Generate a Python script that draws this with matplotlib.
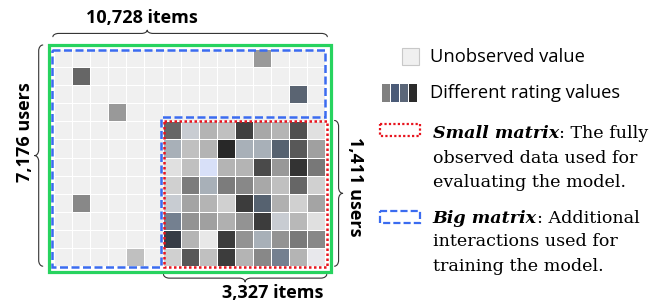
import numpy as np
import matplotlib
matplotlib.use("Agg")
import matplotlib.pyplot as plt
from matplotlib.colors import to_rgb
from matplotlib.patches import Rectangle, PathPatch
from matplotlib.path import Path

# Rating matrix sketch: full user/item matrix with a fully observed sub-block

n_rows, n_cols = 12, 15
small_row0, small_col0 = 4, 6
missing_color = "#f0f0f0"

# sparse observed ratings outside the small block: (row, col, colour)
sparse_obs = [
    (0, 11, "#999999"),
    (1, 1, "#666666"),
    (2, 13, "#5a6472"),
    (3, 3, "#999999"),
    (8, 1, "#888888"),
    (11, 4, "#c0c0c0"),
]

# fully observed small block (8 users x 9 items)
small_matrix = [
    ["#666666", "#c8ccd2", "#b4b4b4", "#c0c0c0", "#404040", "#a8a8a8", "#b4b4b4", "#505050", "#e0e0e0"],
    ["#a8b0b8", "#c0c0c0", "#b4b4b4", "#282828", "#a8b0b8", "#a8b0b8", "#566270", "#585858", "#a0a0a0"],
    ["#e0e0e0", "#c0c0c0", "#d8e0f8", "#b4b4b4", "#b4b4b4", "#4a4a4a", "#989898", "#333333", "#787878"],
    ["#d0d0d0", "#7c7c7c", "#a8b0b8", "#7c7c7c", "#888888", "#a8a8a8", "#c0c0c0", "#666666", "#d0d0d0"],
    ["#c8ccd2", "#a4a4a4", "#b4b4b4", "#d0d0d0", "#3c3c3c", "#566270", "#b0b0b0", "#d0d0d0", "#a4a4a4"],
    ["#748090", "#939393", "#a0a0a0", "#b0b0b0", "#939393", "#3c3c3c", "#c8ccd2", "#b8b8b8", "#e0e0e0"],
    ["#363c46", "#b4b4b4", "#e8e8e8", "#3c3c3c", "#939393", "#a8b0b8", "#939393", "#7a7a7a", "#888888"],
    ["#d0d0d0", "#585858", "#c0c0c0", "#3c3c3c", "#b4b4b4", "#888888", "#748090", "#b4b4b4", "#e8e8ec"],
]

legend_ratings = ["#808080", "#4b5b78", "#5b6678", "#2b2b2b"]

labels = {
    "top": "10,728 items",
    "left": "7,176 users",
    "right": "1,411 users",
    "bottom": "3,327 items",
}

GREEN = "#27d35f"
BLUE = "#3b6cf0"
RED = "#e8141e"
BRACE = "#333333"
SANS = "Open Sans"
SERIF = "DejaVu Serif"


def brace(ax, p0, p1, depth, tip=0.5, r=0.32):
    # curly brace from p0 to p1, tip pushed `depth` to the right of p0->p1 (screen)
    p0, p1 = np.array(p0, float), np.array(p1, float)
    L = np.linalg.norm(p1 - p0)
    t = (p1 - p0) / L
    n = np.array([-t[1], t[0]])
    m = tip * L
    h = depth
    k = 0.55

    def P(a, b):
        return tuple(p0 + a * t + b * n)

    verts = [P(0, 0),
             P(0, h / 2 * k), P(r * (1 - k), h / 2), P(r, h / 2),
             P(m - r, h / 2),
             P(m - r * (1 - k), h / 2), P(m, h / 2 + h / 2 * (1 - k)), P(m, h),
             P(m, h / 2 + h / 2 * (1 - k)), P(m + r * (1 - k), h / 2), P(m + r, h / 2),
             P(L - r, h / 2),
             P(L - r * (1 - k), h / 2), P(L, h / 2 * k), P(L, 0)]
    codes = [Path.MOVETO,
             Path.CURVE4, Path.CURVE4, Path.CURVE4,
             Path.LINETO,
             Path.CURVE4, Path.CURVE4, Path.CURVE4,
             Path.CURVE4, Path.CURVE4, Path.CURVE4,
             Path.LINETO,
             Path.CURVE4, Path.CURVE4, Path.CURVE4]
    ax.add_patch(PathPatch(Path(verts, codes), fill=False, ec=BRACE, lw=0.8,
                           capstyle="round", joinstyle="round"))


fig = plt.figure(figsize=(6.63, 3.06), dpi=100)
ax = fig.add_axes([0, 0, 1, 1])
ax.set_xlim(-2.983, 33.65)
ax.set_ylim(14.20, -2.707)
ax.axis("off")

# cell colours
img = np.tile(np.array(to_rgb(missing_color)), (n_rows, n_cols, 1))
for r, c, col in sparse_obs:
    img[r, c] = to_rgb(col)
for i, row in enumerate(small_matrix):
    for j, col in enumerate(row):
        img[small_row0 + i, small_col0 + j] = to_rgb(col)
ax.pcolormesh(np.arange(n_cols + 1), np.arange(n_rows + 1), img,
              edgecolors="white", linewidth=0.6, zorder=1)

# outlines
ax.add_patch(Rectangle((-0.276, -0.221), n_cols + 0.6, n_rows + 0.54,
                       fill=False, ec=GREEN, lw=2.3, zorder=3))
big = [(-0.1, 0.05), (n_cols - 0.03, 0.05), (n_cols - 0.03, small_row0 - 0.24),
       (small_col0 - 0.09, small_row0 - 0.24), (small_col0 - 0.09, n_rows + 0.03),
       (-0.1, n_rows + 0.03)]
ax.add_patch(plt.Polygon(big, closed=True, fill=False, ec=BLUE, lw=1.8,
                         ls=(0, (3.2, 1.4)), zorder=4))
ax.add_patch(Rectangle((small_col0 + 0.09, small_row0 - 0.02),
                       n_cols - small_col0 - 0.01, n_rows - small_row0 + 0.08,
                       fill=False, ec=RED, lw=1.8, ls=(0, (1, 1)), zorder=5))

# braces and size labels
top_y = -0.68
brace(ax, (n_cols + 0.1, top_y), (-0.06, top_y), 0.36,
      tip=(n_cols + 0.1 - 5.15) / (n_cols + 0.16))
ax.text(4.88, -1.72, labels["top"], ha="center", va="center", fontsize=13,
        fontweight="bold", family=SANS)
brace(ax, (-0.62, -0.22), (-0.62, n_rows + 0.0), 0.45)
ax.text(-1.6, 4.6, labels["left"], ha="center", va="center", rotation=90,
        fontsize=13, fontweight="bold", family=SANS)
brace(ax, (n_cols + 0.5, n_rows + 0.0), (n_cols + 0.5, small_row0 - 0.05), 0.45)
ax.text(n_cols + 1.65, 7.6, labels["right"], ha="center", va="center",
        rotation=-90, fontsize=13, fontweight="bold", family=SANS)
brace(ax, (small_col0 + 0.05, n_rows + 0.45), (n_cols + 0.07, n_rows + 0.45), 0.42)
ax.text(12.1, 13.5, labels["bottom"], ha="center", va="center", fontsize=13,
        fontweight="bold", family=SANS)

# legend
ax.add_patch(Rectangle((19.23, -0.055), 0.94, 0.94, fc=missing_color,
                       ec="#c8c8c8", lw=0.8))
ax.text(20.77, 0.44, "Unobserved value", ha="left", va="center",
        fontsize=13.2, family=SANS)
for k, col in enumerate(legend_ratings):
    ax.add_patch(Rectangle((18.12 + k * 0.5, 1.93), 0.45, 1.0, fc=col, ec="none"))
ax.text(20.77, 2.43, "Different rating values", ha="left", va="center",
        fontsize=13.2, family=SANS)

ax.add_patch(Rectangle((18.0, 4.16), 2.25, 0.62, fill=False, ec=RED, lw=1.6,
                       ls=(0, (1, 1))))
ax.add_patch(Rectangle((18.0, 8.97), 2.25, 0.62, fill=False, ec=BLUE, lw=1.6,
                       ls=(0, (3.2, 1.4))))

fig.canvas.draw()
renderer = fig.canvas.get_renderer()


def rich_line(x, y, parts):
    # draw consecutive text runs on one line
    for txt, style, weight in parts:
        t = ax.text(x, y, txt, ha="left", va="baseline", fontsize=12.6,
                    family=SERIF, fontstyle=style, fontweight=weight)
        bb = t.get_window_extent(renderer=renderer)
        x = ax.transData.inverted().transform((bb.x1, bb.y0))[0]


rich_line(20.92, 4.92, [("Small matrix", "italic", "bold"), (": The fully", "normal", "normal")])
rich_line(20.92, 6.30, [("observed data used for", "normal", "normal")])
rich_line(20.92, 7.62, [("evaluating the model.", "normal", "normal")])
rich_line(20.92, 9.61, [("Big matrix", "italic", "bold"), (": Additional", "normal", "normal")])
rich_line(20.92, 10.88, [("interactions used for", "normal", "normal")])
rich_line(20.92, 12.26, [("training the model.", "normal", "normal")])

fig.savefig("out.png", dpi=100)
